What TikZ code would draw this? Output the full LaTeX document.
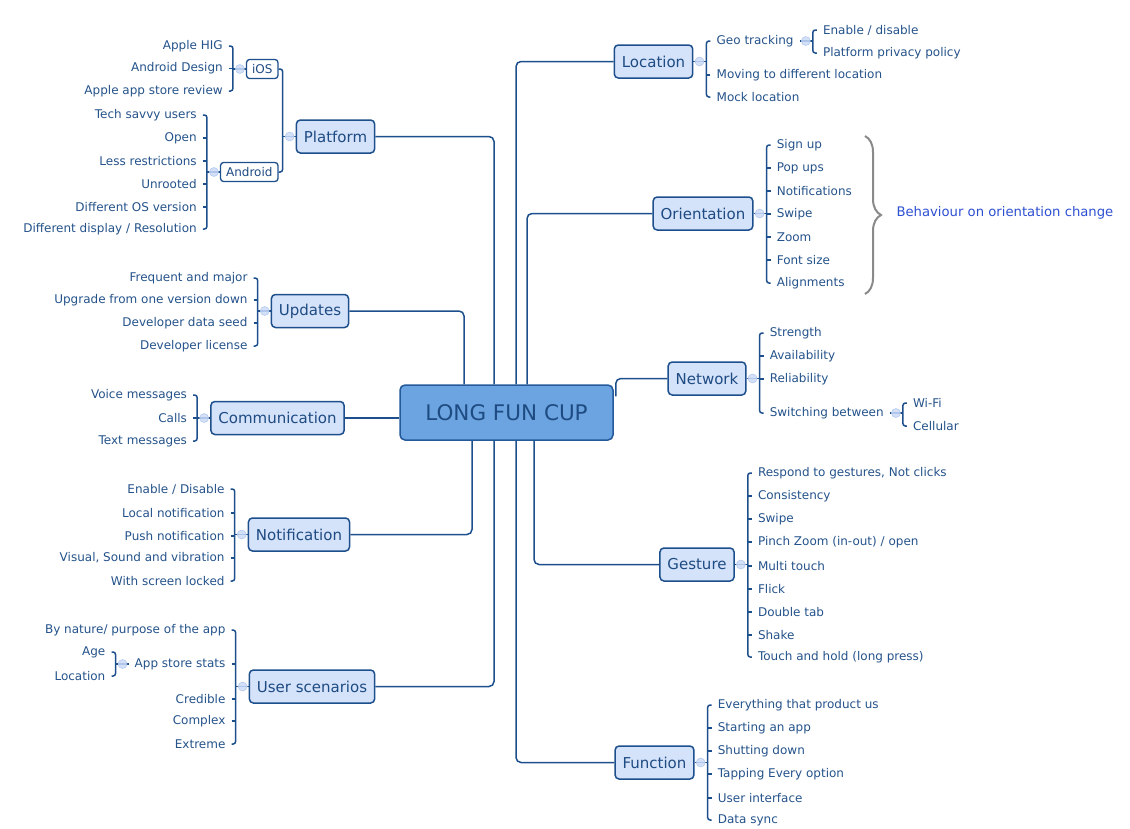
\documentclass[tikz,border=0pt]{standalone}
\usepackage{fontspec}
\setmainfont{DejaVu Sans}
\usetikzlibrary{decorations.pathreplacing}
\definecolor{ln}{HTML}{1D4F8C}
\definecolor{tx}{HTML}{1E4B82}
\definecolor{lftx}{HTML}{24528A}
\definecolor{bfill}{HTML}{D4E2FA}
\definecolor{cfill}{HTML}{6BA4E0}
\definecolor{cdraw}{HTML}{24599A}
\definecolor{dotf}{HTML}{CCDBF6}
\definecolor{dotd}{HTML}{AFC6EE}
\definecolor{behave}{HTML}{2D4FD2}
\definecolor{brgray}{HTML}{8A8A8A}

\newcommand\mmLeafL[4]{\node[leafL] (#1) at (#2 |- 0,#3) {#4};}
\newcommand\mmLeafR[4]{\node[leafR] (#1) at (#2 |- 0,#3) {#4};}
\newcommand\mmBrL[2]{\draw[brk] (#1.east) -| ([xshift=4pt]#2.east) -- (#2.east);}
\newcommand\mmBrR[2]{\draw[brk] (#1.west) -| ([xshift=-4pt]#2.west) -- (#2.west);}
\newcommand\mmTkL[1]{\draw[brk] (#1.east) -- ++(4,0);}
\newcommand\mmTkR[1]{\draw[brk] (#1.west) -- ++(-4,0);}
\newcommand\mmParL[2]{\draw[brk] (#1.west) -- ++(-13,0); \node[dot] (#2) at ([xshift=-6pt]#1.west) {};}
\newcommand\mmParR[2]{\draw[brk] (#1.east) -- ++(13,0); \node[dot] (#2) at ([xshift=6pt]#1.east) {};}

\begin{document}
\begin{tikzpicture}[x=1pt,y=-1pt,
 conn/.style={draw=ln, line width=1.5pt, rounded corners=5pt},
 brk/.style={draw=ln, line width=1.5pt, rounded corners=2.5pt},
 central/.style={draw=cdraw, fill=cfill, line width=1.5pt, rounded corners=5pt, minimum width=213pt, minimum height=55pt, font=\fontsize{21.5}{24}\selectfont, text=tx},
 branch/.style={draw=ln, fill=bfill, line width=1.5pt, rounded corners=4pt, minimum height=33pt, inner xsep=7.5pt, font=\fontsize{15}{18}\selectfont, text=tx},
 subbox/.style={draw=ln, fill=white, line width=1.3pt, rounded corners=3pt, minimum height=19pt, inner xsep=5.5pt, inner ysep=0pt, font=\fontsize{12}{13}\selectfont, text=tx},
 leafL/.style={anchor=east, inner xsep=6pt, inner ysep=1pt, font=\fontsize{12}{14}\selectfont, text=lftx},
 leafR/.style={anchor=west, inner xsep=6pt, inner ysep=1pt, font=\fontsize{12}{14}\selectfont, text=lftx},
 dot/.style={circle, minimum size=9pt, inner sep=0pt, fill=dotf, draw=dotd, line width=0.5pt, fill opacity=0.85,
   path picture={\draw[dotd, line width=0.7pt] ([xshift=2pt]path picture bounding box.west) -- ([xshift=-2pt]path picture bounding box.east);}}
]
\useasboundingbox (0,0) rectangle (1130,828);

% central and branches
\node[central] (center) at (506.5,412.5) {LONG FUN CUP};
\node[branch] (platform) at (335.5,136.5) {Platform};
\node[branch] (updates) at (310,311) {Updates};
\node[branch] (comm) at (277.5,418) {Communication};
\node[branch] (notif) at (299,534.5) {Notification};
\node[branch] (users) at (312,686.5) {User scenarios};
\node[branch] (location) at (653.5,61.5) {Location};
\node[branch] (orient) at (703,213.5) {Orientation};
\node[branch] (network) at (707,378.5) {Network};
\node[branch] (gesture) at (697,564.5) {Gesture};
\node[branch] (function) at (654.5,762.5) {Function};

% connectors from centre
\draw[conn] (platform.east) -| ([xshift=-12.5pt]center.north);
\draw[conn] (updates.east) -| ([xshift=-42.5pt]center.north);
\draw[conn] (location.west) -| ([xshift=9.5pt]center.north);
\draw[conn] (orient.west) -| ([xshift=20.5pt]center.north);
\draw[conn] (network.west) -| ([xshift=2pt,yshift=-12pt]center.north east);
\draw[conn] (comm.east) -- (comm.east -| center.west);
\draw[conn] (notif.east) -| ([xshift=-34.5pt]center.south);
\draw[conn] (users.east) -| ([xshift=-12.5pt]center.south);
\draw[conn] (function.west) -| ([xshift=9.5pt]center.south);
\draw[conn] (gesture.west) -| ([xshift=27.5pt]center.south);

% ---------- Platform ----------
\coordinate (platB) at ([xshift=-17pt]platform.west);
\node[subbox, anchor=east] (ios) at (platB |- 0,69) {iOS};
\node[subbox, anchor=east] (android) at (platB |- 0,172) {Android};
\mmBrL{ios}{android}
\mmParL{platform}{platdot}

\coordinate (iosB) at ([xshift=-17pt]ios.west);
\mmLeafL{i1}{iosB}{46}{Apple HIG}
\mmLeafL{i2}{iosB}{68.5}{Android Design}
\mmLeafL{i3}{iosB}{91}{Apple app store review}
\mmBrL{i1}{i3} \mmTkL{i2}
\mmParL{ios}{iosdot}

\coordinate (andB) at ([xshift=-17pt]android.west);
\mmLeafL{a1}{andB}{115}{Tech savvy users}
\mmLeafL{a2}{andB}{138}{Open}
\mmLeafL{a3}{andB}{161}{Less restrictions}
\mmLeafL{a4}{andB}{184}{Unrooted}
\mmLeafL{a5}{andB}{207}{Different OS version}
\mmLeafL{a6}{andB}{229}{Different display / Resolution}
\mmBrL{a1}{a6} \mmTkL{a2} \mmTkL{a3} \mmTkL{a4} \mmTkL{a5}
\mmParL{android}{anddot}

% ---------- Updates ----------
\coordinate (updB) at ([xshift=-17pt]updates.west);
\mmLeafL{u1}{updB}{278}{Frequent and major}
\mmLeafL{u2}{updB}{300}{Upgrade from one version down}
\mmLeafL{u3}{updB}{323}{Developer data seed}
\mmLeafL{u4}{updB}{346}{Developer license}
\mmBrL{u1}{u4} \mmTkL{u2} \mmTkL{u3}
\mmParL{updates}{upddot}

% ---------- Communication ----------
\coordinate (comB) at ([xshift=-17pt]comm.west);
\mmLeafL{m1}{comB}{395}{Voice messages}
\mmLeafL{m2}{comB}{418}{Calls}
\mmLeafL{m3}{comB}{441}{Text messages}
\mmBrL{m1}{m3} \mmTkL{m2}
\mmParL{comm}{comdot}

% ---------- Notification ----------
\coordinate (notB) at ([xshift=-17pt]notif.west);
\mmLeafL{n1}{notB}{489}{Enable / Disable}
\mmLeafL{n2}{notB}{513}{Local notification}
\mmLeafL{n3}{notB}{536}{Push notification}
\mmLeafL{n4}{notB}{558}{Visual, Sound and vibration}
\mmLeafL{n5}{notB}{581}{With screen locked}
\mmBrL{n1}{n5} \mmTkL{n2} \mmTkL{n3} \mmTkL{n4}
\mmParL{notif}{notdot}

% ---------- User scenarios ----------
\coordinate (usrB) at ([xshift=-17pt]users.west);
\mmLeafL{s1}{usrB}{630}{By nature/ purpose of the app}
\mmLeafL{s2}{usrB}{664}{App store stats}
\mmLeafL{s3}{usrB}{699}{Credible}
\mmLeafL{s4}{usrB}{721}{Complex}
\mmLeafL{s5}{usrB}{744}{Extreme}
\mmBrL{s1}{s5} \mmTkL{s2} \mmTkL{s3} \mmTkL{s4}
\mmParL{users}{usrdot}

\coordinate (appB) at ([xshift=-17pt]s2.west);
\mmLeafL{s21}{appB}{652}{Age}
\mmLeafL{s22}{appB}{676}{Location}
\mmBrL{s21}{s22}
\mmParL{s2}{appdot}

% ---------- Location ----------
\coordinate (locB) at ([xshift=17pt]location.east);
\mmLeafR{l1}{locB}{41}{Geo tracking}
\mmLeafR{l2}{locB}{75}{Moving to different location}
\mmLeafR{l3}{locB}{97}{Mock location}
\mmBrR{l1}{l3} \mmTkR{l2}
\mmParR{location}{locdot}

\coordinate (geoB) at ([xshift=17pt]l1.east);
\mmLeafR{g1}{geoB}{30}{Enable / disable}
\mmLeafR{g2}{geoB}{53}{Platform privacy policy}
\mmBrR{g1}{g2}
\mmParR{l1}{geodot}

% ---------- Orientation ----------
\coordinate (oriB) at ([xshift=17pt]orient.east);
\mmLeafR{o1}{oriB}{145}{Sign up}
\mmLeafR{o2}{oriB}{168}{Pop ups}
\mmLeafR{o3}{oriB}{191}{Notifications}
\mmLeafR{o4}{oriB}{214}{Swipe}
\mmLeafR{o5}{oriB}{237}{Zoom}
\mmLeafR{o6}{oriB}{260}{Font size}
\mmLeafR{o7}{oriB}{283}{Alignments}
\mmBrR{o1}{o7} \mmTkR{o2} \mmTkR{o3} \mmTkR{o4} \mmTkR{o5} \mmTkR{o6}
\mmParR{orient}{oridot}

\draw[brgray, line width=2pt, decorate, decoration={brace, amplitude=16pt}] (865,136) -- (865,294);
\node[anchor=west, text=behave, font=\fontsize{13.2}{15}\selectfont] (behaviour) at (893,213) {Behaviour on orientation change};

% ---------- Network ----------
\coordinate (netB) at ([xshift=17pt]network.east);
\mmLeafR{w1}{netB}{333}{Strength}
\mmLeafR{w2}{netB}{356}{Availability}
\mmLeafR{w3}{netB}{379}{Reliability}
\mmLeafR{w4}{netB}{413}{Switching between}
\mmBrR{w1}{w4} \mmTkR{w2} \mmTkR{w3}
\mmParR{network}{netdot}

\coordinate (swB) at ([xshift=17pt]w4.east);
\mmLeafR{w41}{swB}{403}{Wi-Fi}
\mmLeafR{w42}{swB}{426}{Cellular}
\mmBrR{w41}{w42}
\mmParR{w4}{swdot}

% ---------- Gesture ----------
\coordinate (gesB) at ([xshift=17pt]gesture.east);
\mmLeafR{e1}{gesB}{473}{Respond to gestures, Not clicks}
\mmLeafR{e2}{gesB}{496}{Consistency}
\mmLeafR{e3}{gesB}{519}{Swipe}
\mmLeafR{e4}{gesB}{542}{Pinch Zoom (in-out) / open}
\mmLeafR{e5}{gesB}{566}{Multi touch}
\mmLeafR{e6}{gesB}{589}{Flick}
\mmLeafR{e7}{gesB}{612}{Double tab}
\mmLeafR{e8}{gesB}{635}{Shake}
\mmLeafR{e9}{gesB}{657}{Touch and hold (long press)}
\mmBrR{e1}{e9} \mmTkR{e2} \mmTkR{e3} \mmTkR{e4} \mmTkR{e5} \mmTkR{e6} \mmTkR{e7} \mmTkR{e8}
\mmParR{gesture}{gesdot}

% ---------- Function ----------
\coordinate (funB) at ([xshift=17pt]function.east);
\mmLeafR{f1}{funB}{705}{Everything that product us}
\mmLeafR{f2}{funB}{728}{Starting an app}
\mmLeafR{f3}{funB}{751}{Shutting down}
\mmLeafR{f4}{funB}{774}{Tapping Every option}
\mmLeafR{f5}{funB}{798}{User interface}
\mmLeafR{f6}{funB}{820}{Data sync}
\mmBrR{f1}{f6} \mmTkR{f2} \mmTkR{f3} \mmTkR{f4} \mmTkR{f5}
\mmParR{function}{fundot}
\end{tikzpicture}
\end{document}
